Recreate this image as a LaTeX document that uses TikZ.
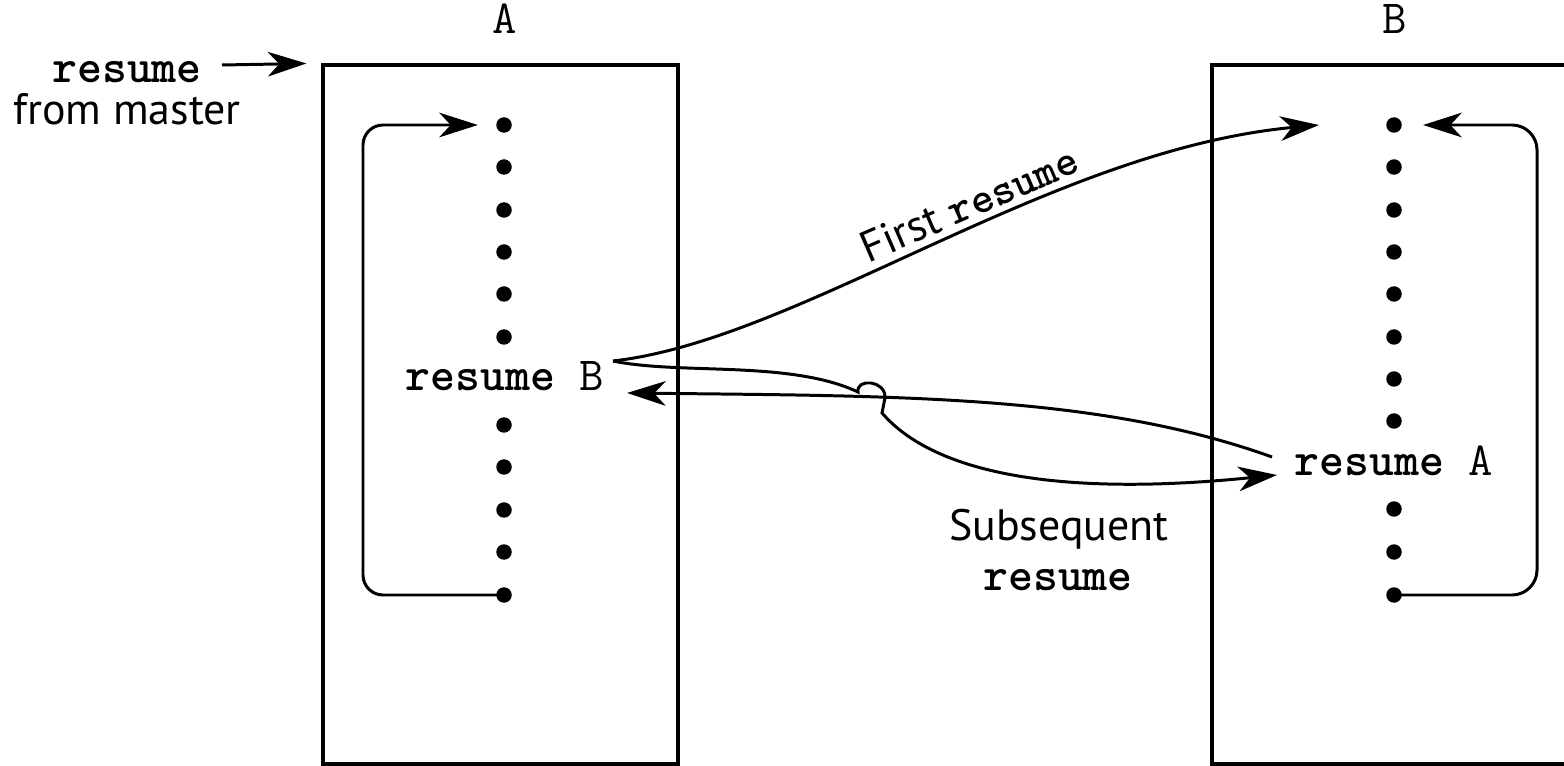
\documentclass[tikz,border=0pt]{standalone}
\usepackage{fontspec}
\newfontfamily\sansf{PT Sans}
\usetikzlibrary{arrows.meta,calc}
\tikzset{
  ln/.style={line width=1.7pt},
  arr/.style={ln,-{Stealth[length=22pt,width=14pt,inset=6.5pt]}},
  dot/.style={circle,fill=black,inner sep=0pt,minimum size=0.31cm},
  mono/.style={inner sep=0pt,font=\fontsize{27}{30}\selectfont\ttfamily},
  bmono/.style={inner sep=0pt,font=\fontsize{27}{30}\selectfont\ttfamily\bfseries},
  sans/.style={inner sep=0pt,font=\fontsize{25}{29}\selectfont\sansf},
  box/.style={draw,line width=1.8pt,inner sep=0pt,minimum height=13.98cm},
}
\begin{document}
\begin{tikzpicture}[x=0.02cm,y=-0.02cm]
\useasboundingbox (0,0) rectangle (1564,766);
\clip (0,0) rectangle (1564,766);

% boxes
\node[box,minimum width=7.1cm] (boxA) at (500.5,414.5) {};
\node[box,minimum width=7.76cm] (boxB) at (1406,414.5) {};

% titles
\node[mono,anchor=base] (labA) at (505,34) {A};
\node[mono,anchor=base] (labB) at (1395,34) {B};

% resume from master
\node[bmono,anchor=base] (m1) at (127,83) {resume};
\node[sans,anchor=base] (m2) at (127,125) {from master};
\draw[arr] ($(m1.base)+(95,-18)$) -- ($(boxA.north west)+(-15,0)$);

% column A
\foreach \i/\y in {1/125,2/167,3/210,4/252,5/294,6/337,7/425,8/467,9/510,10/552,11/595}
  \node[dot] (a\i) at (504,\y) {};
\node[bmono,anchor=base] (rB) at (505,391) {resume \mdseries B};

% column B
\foreach \i/\y in {1/125,2/167,3/210,4/252,5/294,6/337,7/379,8/421,9/509,10/552,11/595}
  \node[dot] (b\i) at (1394,\y) {};
\node[bmono,anchor=base] (rA) at (1394,475) {resume \mdseries A};

% loops
\coordinate (cA) at (363,0);
\coordinate (cB) at (1537,0);
\draw[arr,rounded corners=0.4cm,shorten >=0.36cm] (a11.center) -- (a11 -| cA) -- (a1 -| cA) -- (a1.west);
\draw[arr,rounded corners=0.5cm,shorten >=0.42cm] (b11.center) -- (b11 -| cB) -- (b1 -| cB) -- (b1.east);

% junction
\coordinate (J) at ($(rB.base)+(108,-30)$);

% first resume
\draw[arr] (J) .. controls (800,340) and (1050,150) .. ($(b1.west)+(-67,0)$)
  node[pos=0.56,sloped,above=4pt,sans] {First {\ttfamily\bfseries resume}};

% subsequent resume (with hop)
\draw[arr] (J) .. controls (680,375) and (790,360) .. (858,392)
  .. controls (856,378) and (886,380) .. (885,398) -- (882,413)
  .. controls (940,480) and (1080,495) .. ($(rA.base)+(-117,0)$);

% return
\draw[arr] ($(rA.base)+(-122,-18)$) .. controls (1100,395) and (900,396) .. ($(rB.base)+(122,2)$);

\node[sans,anchor=base] (s1) at (1059,540) {Subsequent};
\node[bmono,anchor=base] (s2) at (1058,590) {resume};
\end{tikzpicture}
\end{document}
